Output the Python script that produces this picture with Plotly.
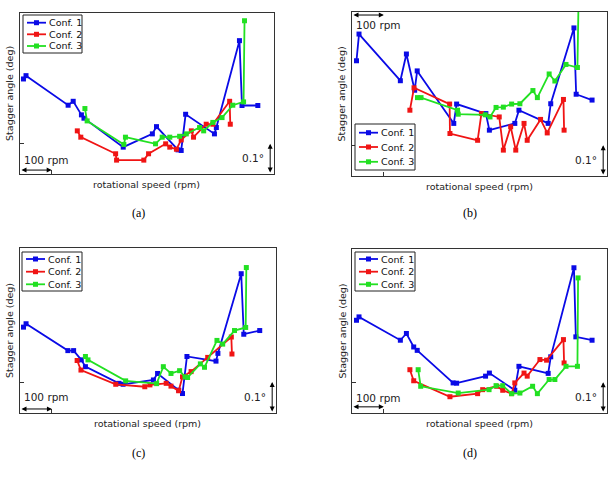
import plotly.graph_objects as go

# ---------------- data (rotational speed in rpm, stagger angle offset in deg) ----------------
# Panel (a)
a_blue_x = [1011, 1019, 1152, 1168, 1194, 1202, 1326, 1418, 1431, 1499, 1509, 1523, 1614, 1620, 1693, 1701, 1751]
a_blue_y = [0.315, 0.326, 0.228, 0.241, 0.196, 0.185, 0.089, 0.133, 0.157, 0.080, 0.078, 0.198, 0.133, 0.154, 0.442, 0.227, 0.227]
a_red_x = [1181, 1192, 1302, 1305, 1391, 1406, 1460, 1473, 1494, 1509, 1541, 1548, 1588, 1609, 1662, 1664]
a_red_y = [0.143, 0.122, 0.067, 0.046, 0.046, 0.067, 0.100, 0.089, 0.082, 0.113, 0.143, 0.122, 0.165, 0.165, 0.241, 0.165]
a_green_x = [1205, 1212, 1328, 1333, 1428, 1449, 1473, 1504, 1525, 1567, 1580, 1609, 1638, 1672, 1706, 1709]
a_green_y = [0.217, 0.176, 0.098, 0.122, 0.100, 0.122, 0.122, 0.125, 0.133, 0.154, 0.143, 0.171, 0.187, 0.228, 0.239, 0.508]

# Panel (b)
b_blue_x = [1014, 1022, 1152, 1171, 1197, 1205, 1320, 1329, 1421, 1432, 1512, 1525, 1617, 1625, 1698, 1705, 1755]
b_blue_y = [0.375, 0.462, 0.310, 0.397, 0.279, 0.342, 0.171, 0.234, 0.203, 0.149, 0.171, 0.214, 0.171, 0.235, 0.482, 0.266, 0.247]
b_red_x = [1182, 1195, 1307, 1308, 1395, 1407, 1463, 1476, 1499, 1515, 1541, 1551, 1593, 1614, 1665, 1667]
b_red_y = [0.214, 0.287, 0.234, 0.138, 0.116, 0.203, 0.192, 0.084, 0.160, 0.084, 0.171, 0.116, 0.184, 0.140, 0.249, 0.149]
b_green_x = [1206, 1217, 1332, 1334, 1419, 1434, 1453, 1476, 1502, 1528, 1569, 1583, 1620, 1638, 1673, 1709, 1713]
b_green_y = [0.255, 0.255, 0.214, 0.201, 0.199, 0.192, 0.223, 0.224, 0.234, 0.235, 0.278, 0.255, 0.332, 0.309, 0.363, 0.353, 0.605]

# Panel (c)
c_blue_x = [1011, 1019, 1150, 1168, 1192, 1205, 1310, 1323, 1418, 1431, 1497, 1509, 1523, 1614, 1620, 1693, 1701, 1751]
c_blue_y = [0.278, 0.289, 0.202, 0.202, 0.172, 0.150, 0.096, 0.093, 0.107, 0.128, 0.074, 0.063, 0.183, 0.168, 0.193, 0.451, 0.255, 0.267]
c_red_x = [1179, 1191, 1300, 1391, 1407, 1458, 1473, 1497, 1509, 1536, 1588, 1662, 1664]
c_red_y = [0.170, 0.139, 0.093, 0.085, 0.091, 0.096, 0.087, 0.072, 0.117, 0.134, 0.180, 0.246, 0.191]
c_green_x = [1205, 1213, 1331, 1428, 1449, 1473, 1500, 1517, 1525, 1565, 1578, 1617, 1635, 1672, 1707, 1709]
c_green_y = [0.183, 0.172, 0.104, 0.095, 0.150, 0.128, 0.137, 0.117, 0.115, 0.159, 0.148, 0.235, 0.223, 0.267, 0.277, 0.471]

# Panel (d)
d_blue_x = [1014, 1022, 1152, 1171, 1194, 1205, 1318, 1329, 1420, 1432, 1512, 1525, 1617, 1625, 1698, 1704, 1755]
d_blue_y = [0.302, 0.313, 0.237, 0.259, 0.215, 0.204, 0.098, 0.097, 0.120, 0.130, 0.074, 0.152, 0.129, 0.183, 0.473, 0.248, 0.237]
d_red_x = [1182, 1194, 1308, 1395, 1411, 1455, 1474, 1502, 1512, 1541, 1551, 1591, 1612, 1665, 1667]
d_red_y = [0.141, 0.105, 0.053, 0.063, 0.076, 0.087, 0.074, 0.063, 0.098, 0.130, 0.120, 0.174, 0.172, 0.239, 0.163]
d_green_x = [1208, 1216, 1334, 1431, 1453, 1474, 1502, 1528, 1568, 1583, 1620, 1638, 1673, 1709, 1711]
d_green_y = [0.141, 0.087, 0.065, 0.076, 0.089, 0.089, 0.063, 0.065, 0.087, 0.063, 0.109, 0.109, 0.152, 0.152, 0.440]

series_names = ["Conf. 1", "Conf. 2", "Conf. 3"]
panel_labels = ["(a)", "(b)", "(c)", "(d)"]
x_range = [1000, 1802]
y_range = [0, 0.534]
scale_rpm = 100      # length of the rpm scale bar
scale_deg = 0.1      # length of the angle scale bar

panels = [
    [(a_blue_x, a_blue_y), (a_red_x, a_red_y), (a_green_x, a_green_y)],
    [(b_blue_x, b_blue_y), (b_red_x, b_red_y), (b_green_x, b_green_y)],
    [(c_blue_x, c_blue_y), (c_red_x, c_red_y), (c_green_x, c_green_y)],
    [(d_blue_x, d_blue_y), (d_red_x, d_red_y), (d_green_x, d_green_y)],
]

# ---------------- styling / layout ----------------
W, H = 615, 478
colors = ["#0a0ae6", "#f01414", "#22e022"]
font_sans = "DejaVu Sans"

x_domains = [[0.0325, 0.4455], [0.5724, 0.987], [0.0325, 0.4488], [0.5724, 0.987]]
y_domains = [[0.636, 0.973], [0.632, 0.975], [0.136, 0.481], [0.136, 0.479]]
# legend boxes in figure pixels (left, top, right, bottom) and row centres
legend_boxes = [(23, 15, 82, 53), (355, 124, 415, 170), (22, 252, 82, 291), (355, 252, 415, 291)]
legend_rows = [(22.7, 34.3, 46.0), (132.7, 147.0, 161.8), (259.0, 271.7, 284.3), (259.0, 271.7, 284.3)]
caption_pos = [(0.2244, 0.5544), (0.764, 0.5544), (0.2244, 0.0523), (0.764, 0.0523)]
# rpm scale bar: (bar y, text y) in data units (deg)
rpm_bar = [(0.013, 0.046), (0.524, 0.491), (0.013, 0.053), (0.020, 0.049)]


def px(xp):
    return xp / W


def py(yp):
    return 1 - yp / H


fig = go.Figure()
annotations = []
shapes = []
layout = {}

for i, series in enumerate(panels):
    sfx = "" if i == 0 else str(i + 1)
    xa, ya = "x" + sfx, "y" + sfx
    for (xs, ys), name, col in zip(series, series_names, colors):
        fig.add_trace(go.Scatter(
            x=xs, y=ys, name=name, mode="lines+markers",
            line=dict(color=col, width=1.8),
            marker=dict(symbol="square", size=5, color=col),
            xaxis=xa, yaxis=ya, showlegend=False,
        ))
    layout["xaxis" + sfx] = dict(
        domain=x_domains[i], anchor=ya, range=x_range, showgrid=False, zeroline=False,
        showline=True, linecolor="#333333", linewidth=1, mirror=True,
        ticks="inside", ticklen=4, tickcolor="#333333", tickvals=[x_range[0] + scale_rpm],
        showticklabels=False,
    )
    layout["yaxis" + sfx] = dict(
        domain=y_domains[i], anchor=xa, range=y_range, showgrid=False, zeroline=False,
        showline=True, linecolor="#333333", linewidth=1, mirror=True,
        ticks="inside", ticklen=4, tickcolor="#333333", tickvals=[y_range[0] + scale_deg],
        showticklabels=False,
    )
    # legend (drawn as a boxed key)
    l, t, r, b = legend_boxes[i]
    shapes.append(dict(type="rect", xref="paper", yref="paper", x0=px(l), x1=px(r), y0=py(b), y1=py(t),
                       line=dict(color="#222222", width=1), fillcolor="white", layer="above"))
    for row_y, name, col in zip(legend_rows[i], series_names, colors):
        shapes.append(dict(type="line", xref="paper", yref="paper", x0=px(l + 4), x1=px(l + 23),
                           y0=py(row_y), y1=py(row_y), line=dict(color=col, width=1.8), layer="above"))
        shapes.append(dict(type="rect", xref="paper", yref="paper", x0=px(l + 11), x1=px(l + 16),
                           y0=py(row_y + 2.5), y1=py(row_y - 2.5), line=dict(width=0),
                           fillcolor=col, layer="above"))
        annotations.append(dict(
            text=name, xref="paper", yref="paper", x=px(l + 24), y=py(row_y),
            xanchor="left", yanchor="middle", showarrow=False,
            font=dict(family=font_sans, size=9.5, color="#111111"),
        ))
    # axis titles
    annotations.append(dict(
        text="rotational speed (rpm)", xref=xa + " domain", yref=ya + " domain",
        x=0.5, y=0, xanchor="center", yanchor="top", yshift=-3, showarrow=False,
        font=dict(family=font_sans, size=9.5, color="#222222"),
    ))
    annotations.append(dict(
        text="Stagger angle (deg)", xref=xa + " domain", yref=ya + " domain",
        x=0, y=0.5, xanchor="right", yanchor="middle", xshift=-3, textangle=-90,
        showarrow=False, font=dict(family=font_sans, size=9.5, color="#222222"),
    ))
    # captions
    annotations.append(dict(
        text=panel_labels[i], xref="paper", yref="paper", x=caption_pos[i][0], y=caption_pos[i][1],
        xanchor="center", yanchor="middle", showarrow=False,
        font=dict(family="Liberation Serif", size=12, color="black"),
    ))
    # rpm scale bar
    bar_y, text_y = rpm_bar[i]
    annotations.append(dict(
        x=x_range[0] + scale_rpm, y=bar_y, ax=x_range[0], ay=bar_y,
        xref=xa, yref=ya, axref=xa, ayref=ya, text="", showarrow=True,
        arrowhead=2, arrowside="end+start", arrowsize=1, arrowwidth=1, arrowcolor="black",
    ))
    annotations.append(dict(
        text="100 rpm", x=x_range[0] + 6, y=text_y,
        xref=xa, yref=ya, xanchor="left", yanchor="middle", showarrow=False,
        font=dict(family=font_sans, size=10.5, color="#222222"),
    ))
    # degree scale bar
    annotations.append(dict(
        x=1790, y=y_range[0] + scale_deg, ax=1790, ay=y_range[0],
        xref=xa, yref=ya, axref=xa, ayref=ya, text="", showarrow=True,
        arrowhead=2, arrowside="end+start", arrowsize=1, arrowwidth=1, arrowcolor="black",
    ))
    annotations.append(dict(
        text="0.1°", x=1776, y=y_range[0] + 0.052,
        xref=xa, yref=ya, xanchor="right", yanchor="middle", showarrow=False,
        font=dict(family=font_sans, size=10.5, color="#222222"),
    ))

fig.update_layout(
    width=W, height=H, margin=dict(l=0, r=0, t=0, b=0),
    paper_bgcolor="white", plot_bgcolor="white", showlegend=False,
    annotations=annotations, shapes=shapes, **layout,
)

fig.write_html("out.html")
